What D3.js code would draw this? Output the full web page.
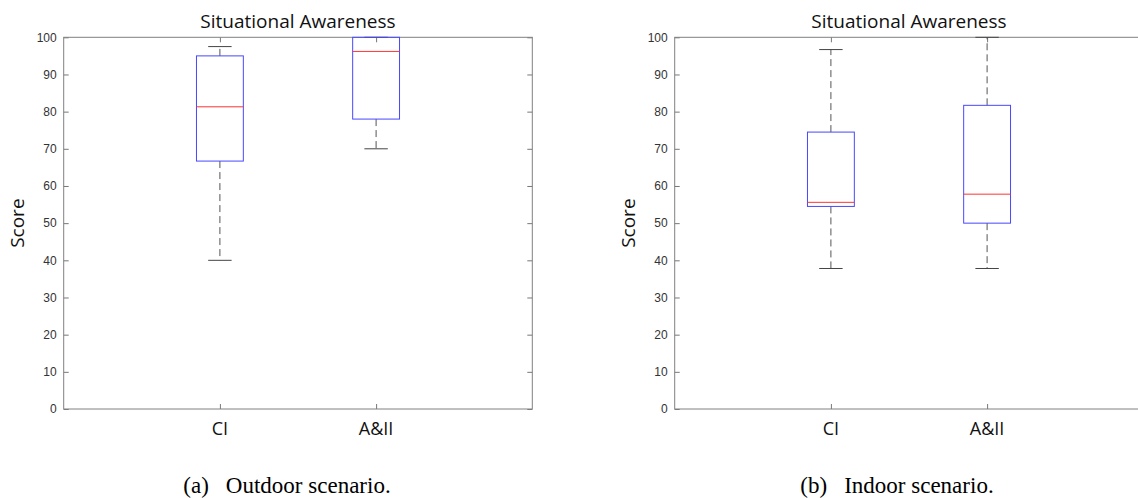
<!DOCTYPE html>
<html>
<head>
<meta charset="utf-8">
<script src="https://cdnjs.cloudflare.com/ajax/libs/d3/7.8.5/d3.min.js"></script>
<style>
  body { margin: 0; background: #fff; }
  svg { display: block; }
  .tick text { font-family: "Liberation Sans", Arial, sans-serif; font-size: 12px; fill: #333; }
  .tick line { stroke: #777; }
  .domain { display: none; }
</style>
</head>
<body>
<div id="chart"></div>
<script>

// data: five-number summaries [low whisker, q1, median, q3, high whisker]
const categories = ['CI', 'A&II'];
const outdoorBoxes = [
  [40, 66.7, 81.3, 95, 97.5],
  [70, 78, 96.2, 100, 100]
];
const indoorBoxes = [
  [37.8, 54.5, 55.6, 74.5, 96.7],
  [37.8, 50, 57.8, 81.7, 100]
];
const yTicks = [0, 10, 20, 30, 40, 50, 60, 70, 80, 90, 100];
const panelTitles = ['Situational Awareness', 'Situational Awareness'];
const captionTags = ['(a)', '(b)'];
const captionTexts = ['Outdoor scenario.', 'Indoor scenario.'];

const W = 1138, H = 498;
const plotW = 468.6;
const plotTop = 37.3, plotBottom = 409;

const svg = d3.select('#chart').append('svg')
  .attr('width', W)
  .attr('height', H);

function makePanel(left, boxes, title, tag, caption, capX) {

  const x = d3.scalePoint()
    .domain(categories)
    .range([left, left + plotW])
    .padding(1);

  const y = d3.scaleLinear()
    .domain([0, 100])
    .range([plotBottom, plotTop]);

  const g = svg.append('g');

  // ticks (inside, matlab style)
  g.append('g')
    .attr('transform', 'translate(' + left + ',0)')
    .call(d3.axisLeft(y).tickValues(yTicks).tickSizeInner(-5).tickSizeOuter(0).tickPadding(7));

  g.append('g')
    .attr('transform', 'translate(' + (left + plotW) + ',0)')
    .call(d3.axisRight(y).tickValues(yTicks).tickSizeInner(-5).tickSizeOuter(0).tickFormat(''));

  g.append('g')
    .attr('transform', 'translate(0,' + plotBottom + ')')
    .call(d3.axisBottom(x).tickSizeInner(-5).tickSizeOuter(0).tickFormat(''));

  g.append('g')
    .attr('transform', 'translate(0,' + plotTop + ')')
    .call(d3.axisTop(x).tickSizeInner(-5).tickSizeOuter(0).tickFormat(''));

  // frame
  g.append('rect')
    .attr('x', left)
    .attr('y', plotTop)
    .attr('width', plotW)
    .attr('height', plotBottom - plotTop)
    .attr('fill', 'none')
    .attr('stroke', '#808080')
    .attr('stroke-width', 1);

  const boxW = x.step() * 0.3;
  const capW = boxW / 2;

  const box = g.selectAll('.box')
    .data(boxes)
    .enter()
    .append('g')
    .attr('class', 'box');

  // whiskers
  box.append('line')
    .attr('x1', (d, i) => x(categories[i]))
    .attr('x2', (d, i) => x(categories[i]))
    .attr('y1', d => y(d[3]))
    .attr('y2', d => y(d[4]))
    .attr('stroke', '#555')
    .attr('stroke-dasharray', '7,4');

  box.append('line')
    .attr('x1', (d, i) => x(categories[i]))
    .attr('x2', (d, i) => x(categories[i]))
    .attr('y1', d => y(d[1]))
    .attr('y2', d => y(d[0]))
    .attr('stroke', '#555')
    .attr('stroke-dasharray', '7,4');

  // caps
  box.append('line')
    .attr('x1', (d, i) => x(categories[i]) - capW / 2)
    .attr('x2', (d, i) => x(categories[i]) + capW / 2)
    .attr('y1', d => y(d[4]))
    .attr('y2', d => y(d[4]))
    .attr('stroke', '#444');

  box.append('line')
    .attr('x1', (d, i) => x(categories[i]) - capW / 2)
    .attr('x2', (d, i) => x(categories[i]) + capW / 2)
    .attr('y1', d => y(d[0]))
    .attr('y2', d => y(d[0]))
    .attr('stroke', '#444');

  // box
  box.append('rect')
    .attr('x', (d, i) => x(categories[i]) - boxW / 2)
    .attr('y', d => y(d[3]))
    .attr('width', boxW)
    .attr('height', d => y(d[1]) - y(d[3]))
    .attr('fill', 'none')
    .attr('stroke', '#4747ff');

  // median
  box.append('line')
    .attr('x1', (d, i) => x(categories[i]) - boxW / 2)
    .attr('x2', (d, i) => x(categories[i]) + boxW / 2)
    .attr('y1', d => y(d[2]))
    .attr('y2', d => y(d[2]))
    .attr('stroke', '#ff3333');

  // category labels
  g.selectAll('.cat')
    .data(categories)
    .enter()
    .append('text')
    .attr('x', d => x(d))
    .attr('y', 434.5)
    .attr('text-anchor', 'middle')
    .style('font-family', '"Open Sans", sans-serif')
    .style('font-size', '18px')
    .style('fill', '#111')
    .text(d => d);

  // title
  g.append('text')
    .attr('x', left + plotW / 2)
    .attr('y', 27.5)
    .attr('text-anchor', 'middle')
    .style('font-family', '"Open Sans", sans-serif')
    .style('font-size', '19px')
    .style('fill', '#111')
    .text(title);

  // y label
  g.append('text')
    .attr('transform', 'translate(' + (left - 40) + ',' + ((plotTop + plotBottom) / 2) + ') rotate(-90)')
    .attr('text-anchor', 'middle')
    .style('font-family', '"Open Sans", sans-serif')
    .style('font-size', '19px')
    .style('fill', '#111')
    .text('Score');

  // caption
  const cap = g.append('text')
    .attr('x', capX)
    .attr('y', 493)
    .attr('text-anchor', 'middle')
    .style('font-family', '"Liberation Serif", "Times New Roman", serif')
    .style('font-size', '23px')
    .style('fill', '#000');
  cap.append('tspan').text(tag);
  cap.append('tspan').attr('dx', 17).text(caption);
}

makePanel(63.7, outdoorBoxes, panelTitles[0], captionTags[0], captionTexts[0], 287);
makePanel(674.7, indoorBoxes, panelTitles[1], captionTags[1], captionTexts[1], 897);

</script>
</body>
</html>
